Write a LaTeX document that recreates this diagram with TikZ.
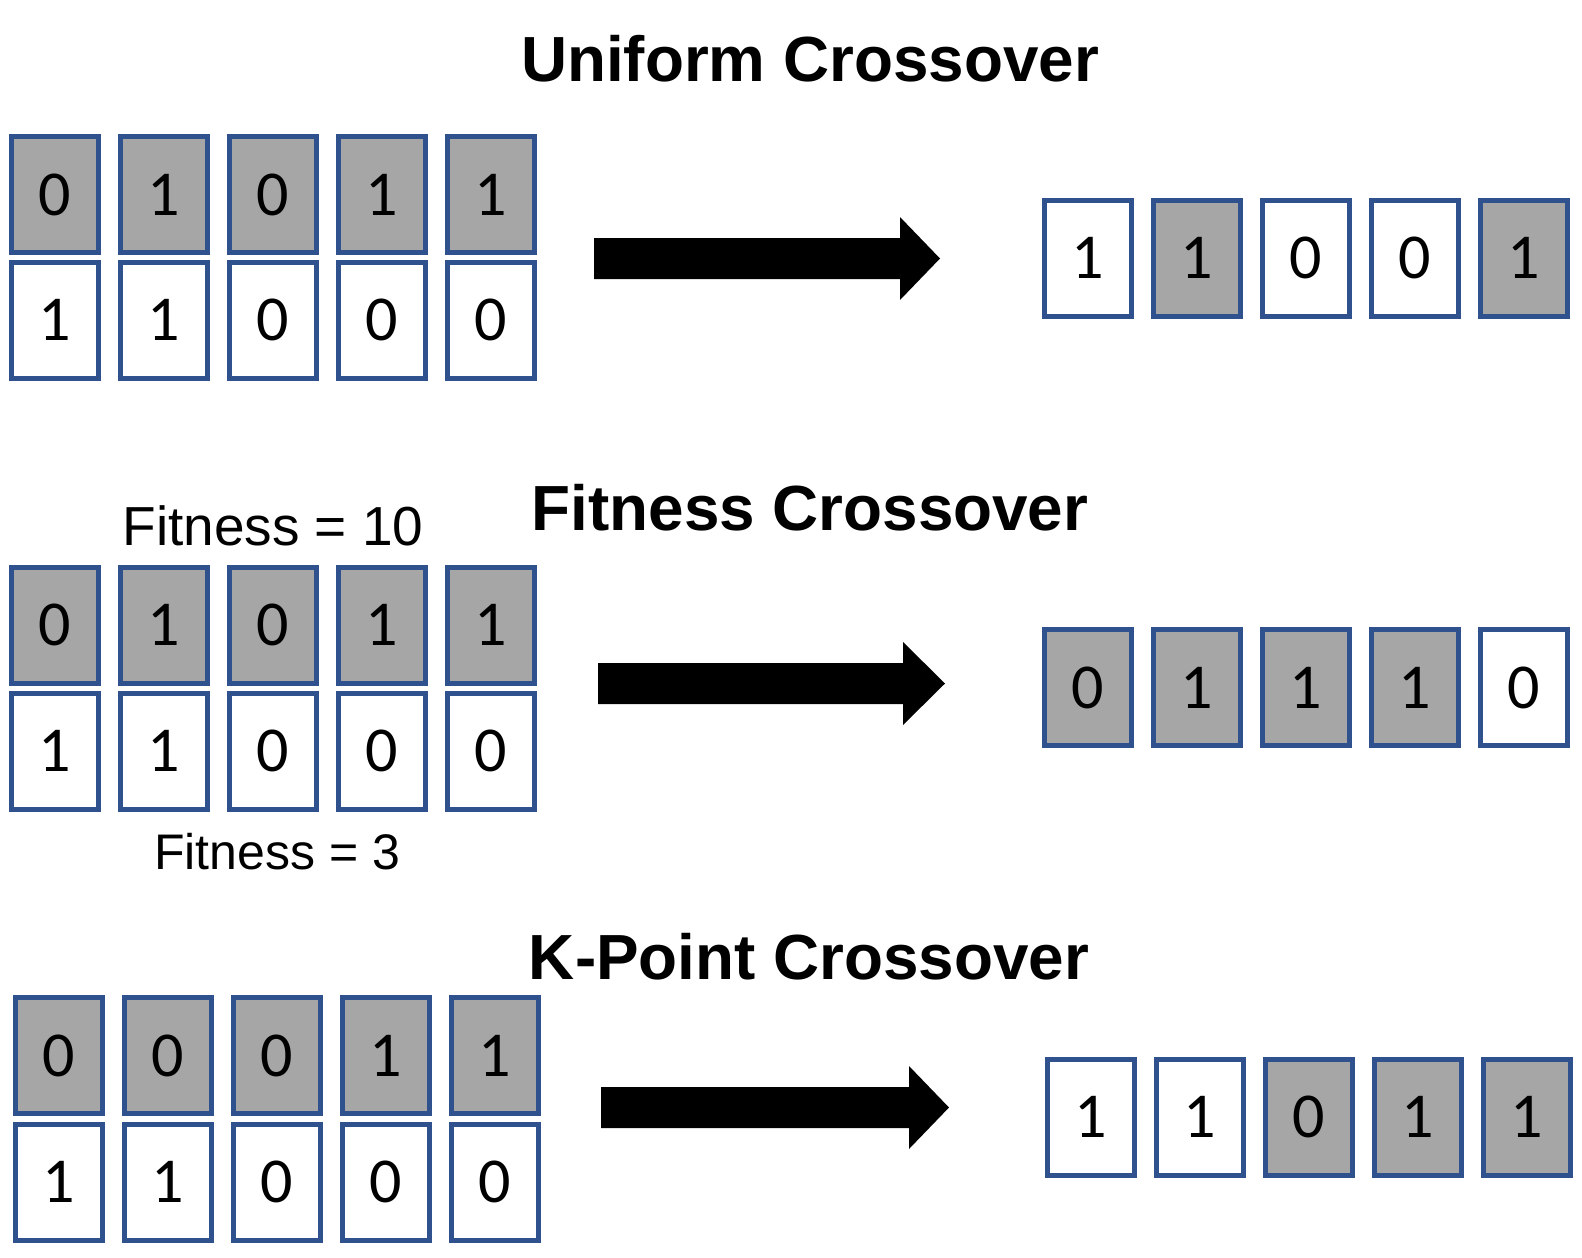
\documentclass[tikz,border=0pt]{standalone}
\usepackage{fontspec}
\setmainfont{Liberation Sans}
\newfontfamily\digitfont{Carlito}
\definecolor{boxblue}{HTML}{2F528F}
\definecolor{boxgray}{HTML}{A6A6A6}
\tikzset{
  cell/.style={draw=boxblue, line width=5pt, minimum width=87pt, minimum height=116pt,
    inner sep=0pt, font=\digitfont\fontsize{64}{64}\selectfont},
  gcell/.style={cell, fill=boxgray},
  wcell/.style={cell, fill=white},
  title/.style={anchor=base, inner sep=0pt, font=\bfseries\fontsize{63.8}{70}\selectfont},
  fitlabel/.style={anchor=base, inner sep=0pt},
  blockarrow/.style={fill=black}
}
\begin{document}
\begin{tikzpicture}[x=1pt,y=-1pt]
\useasboundingbox (0,0) rectangle (1582,1258);

% ---------- Uniform Crossover ----------
\node[title] (t1) at (810,81) {Uniform Crossover};
\foreach \v [count=\i] in {0,1,0,1,1}
  \node[gcell] (s1t\i) at ({55+109*(\i-1)},194.5) {\v};
\foreach \v [count=\i] in {1,1,0,0,0}
  \node[wcell] (s1b\i) at ({55+109*(\i-1)},320) {\v};
\foreach \v/\s [count=\i] in {1/wcell,1/gcell,0/wcell,0/wcell,1/gcell}
  \node[\s] (s1r\i) at ({1088+109*(\i-1)},258) {\v};
\fill[blockarrow] (594,238) -- (900,238) -- (900,217) -- (940,258.5) -- (900,300) -- (900,279) -- (594,279) -- cycle;

% ---------- Fitness Crossover ----------
\node[title] (t2) at (810,530) {Fitness Crossover};
\node[fitlabel, font=\fontsize{55}{60}\selectfont] (f10) at (273,545) {Fitness = 10};
\foreach \v [count=\i] in {0,1,0,1,1}
  \node[gcell] (s2t\i) at ({55+109*(\i-1)},625) {\v};
\foreach \v [count=\i] in {1,1,0,0,0}
  \node[wcell] (s2b\i) at ({55+109*(\i-1)},751) {\v};
\node[fitlabel, font=\fontsize{50}{55}\selectfont] (f3) at (277,869) {Fitness = 3};
\foreach \v/\s [count=\i] in {0/gcell,1/gcell,1/gcell,1/gcell,0/wcell}
  \node[\s] (s2r\i) at ({1088+109*(\i-1)},687.5) {\v};
\fill[blockarrow] (598,663) -- (903,663) -- (903,642) -- (945,683.5) -- (903,725) -- (903,704) -- (598,704) -- cycle;

% ---------- K-Point Crossover ----------
\node[title] (t3) at (809,979) {K-Point Crossover};
\foreach \v [count=\i] in {0,0,0,1,1}
  \node[gcell] (s3t\i) at ({58.5+109*(\i-1)},1055.5) {\v};
\foreach \v [count=\i] in {1,1,0,0,0}
  \node[wcell] (s3b\i) at ({58.5+109*(\i-1)},1182) {\v};
\foreach \v/\s [count=\i] in {1/wcell,1/wcell,0/gcell,1/gcell,1/gcell}
  \node[\s] (s3r\i) at ({1091+109*(\i-1)},1117) {\v};
\fill[blockarrow] (601,1087) -- (909,1087) -- (909,1066) -- (949,1107.5) -- (909,1149) -- (909,1128) -- (601,1128) -- cycle;
\end{tikzpicture}
\end{document}
